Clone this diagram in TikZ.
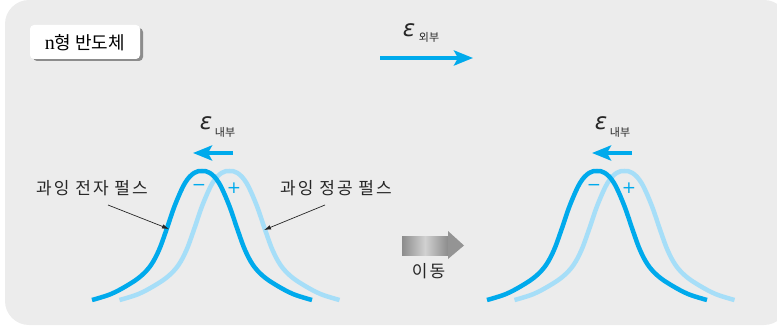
\documentclass[tikz,border=0pt]{standalone}
\usepackage{fontspec}
\setmainfont{Liberation Serif}
\newfontfamily\kr[LetterSpace=12]{Noto Sans CJK KR}
\newfontfamily\krs{Noto Sans CJK KR}
\newfontfamily\dv{DejaVu Sans}
\usetikzlibrary{arrows.meta}
\definecolor{cyanD}{RGB}{0,170,236}
\definecolor{cyanL}{RGB}{166,222,248}
\definecolor{bgG}{RGB}{236,236,236}
\tikzset{
  lbl/.style={inner sep=0pt, font=\kr\fontsize{17}{20}\selectfont, text=black!85},
  eps/.style={inner sep=0pt, font=\dv\itshape\fontsize{23}{23}\selectfont, text=black!85},
  sub/.style={inner sep=0pt, font=\krs\fontsize{11}{12}\selectfont, text=black!85},
  fieldarrow/.style={cyanD, line width=4pt, -{Stealth[length=19pt,width=15pt,inset=4pt]}},
  pointer/.style={black!85, line width=0.7pt, -{Latex[length=7pt,width=4.5pt]}},
  sign/.style={inner sep=0pt, text=cyanD, font=\dv\fontsize{17}{17}\selectfont},
  pulse/.style={line width=4.5pt, line cap=butt}
}
\newcommand\pulsepath{plot[smooth, tension=0.6] coordinates {(-110,300) (-91,294) (-74,285) (-61,276) (-51,265) (-43,250) (-36,231) (-27,205) (-17,183) (-8,173) (0,171) (8,173) (17,183) (27,205) (36,231) (43,250) (51,265) (61,276) (74,285) (91,294) (110,300)}}
\begin{document}
\begin{tikzpicture}[x=1pt,y=-1pt]
\useasboundingbox (0,0) rectangle (777,326);
\fill[bgG, rounded corners=24pt] (5,0) -- (5,325) -- (788,325) -- (788,0) -- cycle;
% label box
\fill[black!45, rounded corners=4pt] (33,28) rectangle (143,61);
\node[fill=white, rounded corners=4pt, minimum width=110pt, minimum height=34pt, inner sep=0pt] (box) at (85,42) {};
\node[inner sep=0pt] (boxtext) at (85,43) {\fontsize{20}{20}\selectfont n\krs\fontsize{18}{20}\selectfont 형 반도체};
% external field
\node[eps] (epsx) at (409,30) {ε};
\node[sub] (subx) at (429,37) {외부};
\coordinate (xa) at (380,58);
\coordinate (xb) at (473,58);
\draw[fieldarrow] (xa) -- (xb);
% left panel
\node[eps] (epsL) at (206,123) {ε};
\node[sub] (subL) at (225,132) {내부};
\coordinate (la) at (233,153);
\coordinate (lb) at (193,153);
\draw[fieldarrow] (la) -- (lb);
\draw[pulse, cyanL, shift={(229.5,0)}] \pulsepath;
\draw[pulse, cyanD, shift={(202,0)}] \pulsepath;
\node[sign] (mL) at (199,187) {−};
\node[sign] (pL) at (234,188) {+};
\node[lbl] (elec) at (92,188) {과잉 전자 펄스};
\node[lbl] (hole) at (336,188) {과잉 정공 펄스};
\coordinate (elecS) at (108,205);
\coordinate (elecT) at (169,229);
\coordinate (holeS) at (325,205);
\coordinate (holeT) at (264,230);
\draw[pointer] (elecS) -- (elecT);
\draw[pointer] (holeS) -- (holeT);
% move arrow
\shade[left color=black!45, right color=black!45, middle color=black!18] (402,236) rectangle (448,255);
\fill[black!42] (448,231) -- (464,245.5) -- (448,259) -- cycle;
\node[lbl] (move) at (428.5,271) {이동};
% right panel
\node[eps] (epsR) at (601,123) {ε};
\node[sub] (subR) at (620,132) {내부};
\coordinate (ra) at (632,153);
\coordinate (rb) at (592,153);
\draw[fieldarrow] (ra) -- (rb);
\draw[pulse, cyanL, shift={(624.5,0)}] \pulsepath;
\draw[pulse, cyanD, shift={(597,0)}] \pulsepath;
\node[sign] (mR) at (594,187) {−};
\node[sign] (pR) at (629,188) {+};
\end{tikzpicture}
\end{document}
